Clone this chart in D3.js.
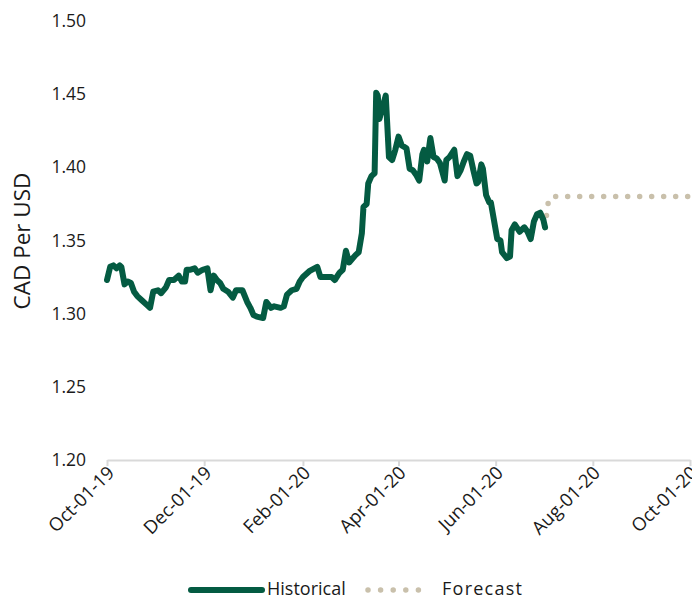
<!DOCTYPE html>
<html>
<head>
<meta charset="utf-8">
<script src="https://cdn.jsdelivr.net/npm/d3@7"></script>
<style>
  html, body { margin: 0; padding: 0; background: #fff; }
  svg text { font-family: "Open Sans", "Noto Sans", sans-serif; fill: #1a1a1a; }
</style>
</head>
<body>
<svg id="chart" width="692" height="599"></svg>
<script>
// ---- Data ----
const histDates = [
  "2019-10-01","2019-10-03","2019-10-05","2019-10-07","2019-10-09","2019-10-10","2019-10-12","2019-10-14","2019-10-16","2019-10-18",
  "2019-10-20","2019-10-23","2019-10-26","2019-10-28","2019-10-30","2019-11-02","2019-11-04","2019-11-07","2019-11-09","2019-11-12",
  "2019-11-15","2019-11-17","2019-11-19","2019-11-20","2019-11-22","2019-11-25","2019-11-27","2019-11-30","2019-12-03","2019-12-05",
  "2019-12-07","2019-12-09","2019-12-11","2019-12-13","2019-12-16","2019-12-19","2019-12-21","2019-12-25","2019-12-28","2019-12-30",
  "2020-01-01","2020-01-03","2020-01-07","2020-01-09","2020-01-12","2020-01-14","2020-01-18","2020-01-20","2020-01-22","2020-01-25",
  "2020-01-28","2020-01-30","2020-02-01","2020-02-05","2020-02-10","2020-02-12","2020-02-16","2020-02-19","2020-02-21","2020-02-24",
  "2020-02-26","2020-02-28","2020-03-01","2020-03-05","2020-03-07","2020-03-09","2020-03-10","2020-03-12","2020-03-13","2020-03-15",
  "2020-03-17","2020-03-18","2020-03-19","2020-03-20","2020-03-22","2020-03-24","2020-03-26","2020-03-28","2020-03-30","2020-04-01",
  "2020-04-03","2020-04-06","2020-04-08","2020-04-10","2020-04-12","2020-04-14","2020-04-16","2020-04-17","2020-04-19","2020-04-21",
  "2020-04-23","2020-04-25","2020-04-27","2020-04-30","2020-05-01","2020-05-03","2020-05-06","2020-05-08","2020-05-10","2020-05-12",
  "2020-05-14","2020-05-16","2020-05-18","2020-05-20","2020-05-21","2020-05-23","2020-05-24","2020-05-26","2020-05-28","2020-05-29",
  "2020-06-02","2020-06-04","2020-06-05","2020-06-08","2020-06-10","2020-06-11","2020-06-13","2020-06-16","2020-06-19","2020-06-21",
  "2020-06-23","2020-06-25","2020-06-27","2020-06-29","2020-07-01","2020-07-02"
];
const histValues = [
  1.323,1.332,1.333,1.331,1.333,1.332,1.320,1.322,1.321,1.315,
  1.312,1.309,1.306,1.304,1.315,1.316,1.314,1.318,1.323,1.323,
  1.326,1.322,1.322,1.330,1.330,1.331,1.328,1.330,1.331,1.316,
  1.326,1.323,1.321,1.317,1.315,1.311,1.316,1.316,1.308,1.304,
  1.299,1.298,1.297,1.308,1.304,1.305,1.304,1.305,1.313,1.316,
  1.317,1.322,1.325,1.329,1.332,1.325,1.325,1.325,1.323,1.328,
  1.330,1.343,1.335,1.340,1.342,1.355,1.373,1.375,1.389,1.394,
  1.396,1.451,1.449,1.433,1.441,1.449,1.407,1.405,1.412,1.421,
  1.415,1.413,1.399,1.398,1.395,1.391,1.409,1.412,1.404,1.420,
  1.407,1.406,1.403,1.391,1.405,1.407,1.412,1.394,1.398,1.404,
  1.409,1.408,1.398,1.389,1.390,1.402,1.399,1.381,1.376,1.376,
  1.351,1.350,1.342,1.338,1.339,1.357,1.361,1.356,1.359,1.356,
  1.351,1.363,1.368,1.369,1.364,1.359
];
const fcstDates  = ["2020-07-02","2020-07-03","2020-07-04","2020-07-06","2020-10-01"];
const fcstValues = [1.359, 1.368, 1.376, 1.380, 1.380];
const xTickDates = ["2019-10-01","2019-12-01","2020-02-01","2020-04-01","2020-06-01","2020-08-01","2020-10-01"];
const yTicks = [1.20, 1.25, 1.30, 1.35, 1.40, 1.45, 1.50];
const seriesNames = ["Historical", "Forecast"];

// ---- Chart ----
const parse = d3.timeParse("%Y-%m-%d");
const histColor = "#045b42";
const fcstColor = "#c9c0ab";
const svg = d3.select("#chart");

const x = d3.scaleTime()
  .domain([parse("2019-10-01"), parse("2020-10-01")])
  .range([107, 690]);
const y = d3.scaleLinear().domain([1.20, 1.50]).range([460, 21]);

const hist = histDates.map((d, i) => ({ date: parse(d), v: histValues[i] }));
const fcst = fcstDates.map((d, i) => ({ date: parse(d), v: fcstValues[i] }));

// Y axis (labels only)
const yAxis = svg.append("g")
  .attr("transform", "translate(92,0)")
  .call(d3.axisLeft(y).tickValues(yTicks).tickFormat(d3.format(".2f")).tickSize(0).tickPadding(6));
yAxis.select(".domain").remove();
yAxis.selectAll("text").attr("font-size", 17.5).style("font-family", "'Open Sans', sans-serif").attr("fill", "#1a1a1a");

// X axis
const xAxis = svg.append("g")
  .attr("transform", "translate(0,460)")
  .call(d3.axisBottom(x)
    .tickValues(xTickDates.map(parse))
    .tickFormat(d3.timeFormat("%b-%d-%y"))
    .tickSize(6).tickSizeOuter(0));
xAxis.select(".domain").attr("stroke", "#d9d9d9").attr("stroke-width", 2);
xAxis.selectAll(".tick line").attr("stroke", "#d9d9d9").attr("stroke-width", 2);
xAxis.selectAll(".tick text")
  .attr("font-size", 18.5)
  .style("font-family", "'Open Sans', sans-serif")
  .attr("fill", "#1a1a1a")
  .attr("text-anchor", "end")
  .attr("dy", null)
  .attr("y", 0)
  .attr("transform", "translate(8,14) rotate(-45)");

// Y title
svg.append("text")
  .attr("transform", "translate(30,241) rotate(-90)")
  .attr("text-anchor", "middle")
  .attr("font-size", 22.5)
  .text("CAD Per USD");

const line = d3.line().x(d => x(d.date)).y(d => y(d.v));

svg.append("path")
  .datum(fcst)
  .attr("d", line)
  .attr("fill", "none")
  .attr("stroke", fcstColor)
  .attr("stroke-width", 5.5)
  .attr("stroke-linecap", "round")
  .attr("stroke-dasharray", "0 12");

svg.append("path")
  .datum(hist)
  .attr("d", line)
  .attr("fill", "none")
  .attr("stroke", histColor)
  .attr("stroke-width", 6)
  .attr("stroke-linejoin", "round")
  .attr("stroke-linecap", "round");

// Legend
const lg = svg.append("g");
lg.append("line").attr("x1", 191).attr("x2", 262).attr("y1", 590).attr("y2", 590)
  .attr("stroke", histColor).attr("stroke-width", 6).attr("stroke-linecap", "round");
lg.append("text").attr("x", 267).attr("y", 589).attr("dy", "0.35em").attr("font-size", 18).text(seriesNames[0]);
lg.append("line").attr("x1", 368).attr("x2", 431).attr("y1", 590).attr("y2", 590)
  .attr("stroke", fcstColor).attr("stroke-width", 5.5).attr("stroke-linecap", "round")
  .attr("stroke-dasharray", "0 12.6");
lg.append("text").attr("x", 442).attr("y", 589).attr("dy", "0.35em").attr("font-size", 18)
  .attr("textLength", 80).text(seriesNames[1]);
</script>
</body>
</html>
